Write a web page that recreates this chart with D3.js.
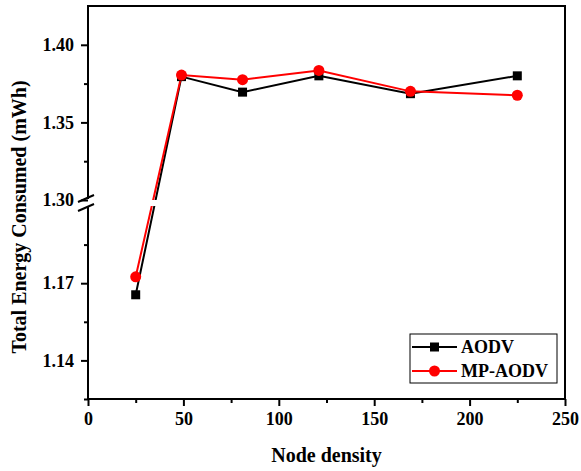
<!DOCTYPE html>
<html>
<head>
<meta charset="utf-8">
<script src="https://cdn.jsdelivr.net/npm/d3@7"></script>
<style>
  body { margin: 0; background: #fff; }
  svg text { font-family: "Liberation Serif", "Times New Roman", serif; font-weight: bold; fill: #000; }
</style>
</head>
<body>
<div id="viz"></div>
<script>
// ====================
// DATA
// ====================
const nodeDensity = [25, 49, 81, 121, 169, 225];
const aodv = [1.1655, 1.3795, 1.3695, 1.3800, 1.3685, 1.3800];
const mpAodv = [1.1725, 1.3805, 1.3775, 1.3835, 1.3700, 1.3675];
const seriesNames = ['AODV', 'MP-AODV'];

const xTicks = [0, 50, 100, 150, 200, 250];
const xMinor = [25, 75, 125, 175, 225];
const yUpperTicks = [1.30, 1.35, 1.40];
const yUpperMinor = [1.325, 1.375];
const yLowerTicks = [1.14, 1.17];
const yLowerMinor = [1.125, 1.155, 1.185];

// ====================
// SETUP
// ====================
const width = 581;
const height = 471;
const plotLeft = 88, plotRight = 565, plotTop = 6, plotBottom = 399;
const breakTop = 200, breakBottom = 206;

const x = d3.scaleLinear().domain([0, 250]).range([plotLeft, plotRight]);
// broken y axis: two linear pieces
const yUp = d3.scaleLinear().domain([1.30, 1.425]).range([breakTop, plotTop]);
const yLow = d3.scaleLinear().domain([1.125, 1.20]).range([plotBottom, breakBottom]);
const y = (v) => (v >= 1.25 ? yUp(v) : yLow(v));

const svg = d3.select('#viz').append('svg')
  .attr('width', width)
  .attr('height', height);

// ====================
// LINES
// ====================
const line = d3.line().x((d) => x(d[0])).y((d) => y(d[1]));
const series = [
  { name: seriesNames[0], values: aodv, color: '#000000', shape: 'square' },
  { name: seriesNames[1], values: mpAodv, color: '#ff0000', shape: 'circle' }
];

series.forEach((s) => {
  const pts = nodeDensity.map((n, i) => [n, s.values[i]]);
  svg.append('path')
    .datum(pts)
    .attr('d', line)
    .attr('fill', 'none')
    .attr('stroke', s.color)
    .attr('stroke-width', 2);
});

// white gap where the axis is broken
svg.append('rect')
  .attr('x', plotLeft + 1).attr('y', breakTop)
  .attr('width', plotRight - plotLeft - 2).attr('height', breakBottom - breakTop)
  .attr('fill', '#fff');

// markers
const drawMarker = (sel, shape, color, cx, cy) => {
  if (shape === 'square') {
    sel.append('rect')
      .attr('x', cx - 4.5).attr('y', cy - 4.5)
      .attr('width', 9).attr('height', 9)
      .attr('fill', color);
  } else {
    sel.append('circle')
      .attr('cx', cx).attr('cy', cy).attr('r', 5.5)
      .attr('fill', color);
  }
};

series.forEach((s) => {
  nodeDensity.forEach((n, i) => drawMarker(svg, s.shape, s.color, x(n), y(s.values[i])));
});

// ====================
// AXES
// ====================
const styleAxis = (g) => {
  g.select('.domain').remove();
  g.selectAll('.tick line').attr('stroke', '#000').attr('stroke-width', 2);
  g.selectAll('.tick text').style('font-size', '18px');
};

const frameLine = (x1, y1, x2, y2) => svg.append('line')
  .attr('x1', x1).attr('y1', y1).attr('x2', x2).attr('y2', y2)
  .attr('stroke', '#000').attr('stroke-width', 2);

// frame
frameLine(plotLeft, plotTop, plotRight, plotTop);
frameLine(plotRight, plotTop - 1, plotRight, plotBottom + 1);
frameLine(plotLeft - 1, plotBottom, plotRight + 1, plotBottom);
frameLine(plotLeft, plotTop - 1, plotLeft, breakTop - 1);
frameLine(plotLeft, breakBottom + 1, plotLeft, plotBottom + 1);

// x axis
svg.append('g')
  .attr('transform', `translate(0,${plotBottom})`)
  .call(d3.axisBottom(x).tickValues(xTicks).tickSize(7).tickPadding(6).tickFormat(d3.format('d')))
  .call(styleAxis);
svg.append('g')
  .attr('transform', `translate(0,${plotBottom})`)
  .call(d3.axisBottom(x).tickValues(xMinor).tickSize(4).tickFormat(''))
  .call(styleAxis);

// y axis upper
svg.append('g')
  .attr('transform', `translate(${plotLeft},0)`)
  .call(d3.axisLeft(yUp).tickValues(yUpperTicks).tickSize(7).tickPadding(7).tickFormat(d3.format('.2f')))
  .call(styleAxis);
svg.append('g')
  .attr('transform', `translate(${plotLeft},0)`)
  .call(d3.axisLeft(yUp).tickValues(yUpperMinor).tickSize(4).tickFormat(''))
  .call(styleAxis);

// y axis lower
svg.append('g')
  .attr('transform', `translate(${plotLeft},0)`)
  .call(d3.axisLeft(yLow).tickValues(yLowerTicks).tickSize(7).tickPadding(7).tickFormat(d3.format('.2f')))
  .call(styleAxis);
svg.append('g')
  .attr('transform', `translate(${plotLeft},0)`)
  .call(d3.axisLeft(yLow).tickValues(yLowerMinor).tickSize(4).tickFormat(''))
  .call(styleAxis);

// break marks
[breakTop - 1, breakBottom + 2].forEach((by) => {
  frameLine(plotLeft - 10, by + 3, plotLeft + 6, by - 4);
});

// axis titles
svg.append('text')
  .attr('x', (plotLeft + plotRight) / 2).attr('y', 462)
  .attr('text-anchor', 'middle')
  .style('font-size', '20px')
  .text('Node density');

svg.append('text')
  .attr('transform', `translate(26,217) rotate(-90)`)
  .attr('text-anchor', 'middle')
  .style('font-size', '20px')
  .text('Total Energy Consumed (mWh)');

// ====================
// LEGEND
// ====================
const legend = svg.append('g');
legend.append('rect')
  .attr('x', 410).attr('y', 334).attr('width', 147).attr('height', 49)
  .attr('fill', '#fff').attr('stroke', '#000').attr('stroke-width', 1);

series.forEach((s, i) => {
  const ly = 347 + i * 24;
  legend.append('line')
    .attr('x1', 412).attr('x2', 457).attr('y1', ly).attr('y2', ly)
    .attr('stroke', s.color).attr('stroke-width', 2);
  drawMarker(legend, s.shape, s.color, 434.5, ly);
  legend.append('text')
    .attr('x', 461).attr('y', ly + 6)
    .style('font-size', '18px')
    .text(s.name);
});
</script>
</body>
</html>
